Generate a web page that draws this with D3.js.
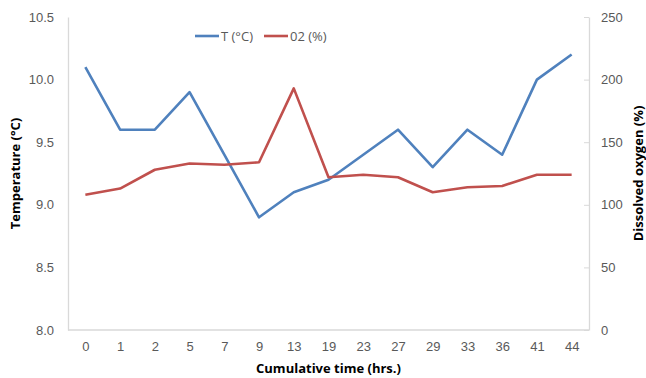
<!DOCTYPE html>
<html>
<head>
<meta charset="utf-8">
<script src="https://cdn.jsdelivr.net/npm/d3@7"></script>
<style>
  html, body { margin: 0; padding: 0; background: #fff; }
  svg { display: block; font-family: "Open Sans", "Liberation Sans", sans-serif; }
</style>
</head>
<body>
<svg id="chart" width="646" height="378"></svg>
<script>
// Sampling times (hours, cumulative) used as categories
const times = ["0", "1", "2", "5", "7", "9", "13", "19", "23", "27", "29", "33", "36", "41", "44"];
// Water temperature (°C)
const temperature = [10.1, 9.6, 9.6, 9.9, 9.4, 8.9, 9.1, 9.2, 9.4, 9.6, 9.3, 9.6, 9.4, 10.0, 10.2];
// Dissolved oxygen saturation (%)
const oxygen = [108, 113, 128, 133, 132, 134, 193, 122, 124, 122, 110, 114, 115, 124, 124];
// Axis ticks
const tempTicks = [8.0, 8.5, 9.0, 9.5, 10.0, 10.5];
const oxyTicks = [0, 50, 100, 150, 200, 250];

const W = 646, H = 378;
const margin = { left: 68, right: 57, top: 17, bottom: 48 };
const x0 = margin.left, x1 = W - margin.right, y0 = H - margin.bottom, y1 = margin.top;

const svg = d3.select("#chart");
const blue = "#4F81BD", red = "#C0504D", axisGray = "#D9D9D9", textGray = "#595959";

const x = d3.scalePoint().domain(times).range([x0, x1]).padding(0.5);
const yT = d3.scaleLinear().domain([8, 10.5]).range([y0, y1]);
const yO = d3.scaleLinear().domain([0, 250]).range([y0, y1]);

// Left axis (temperature)
const leftAxis = svg.append("g").attr("transform", `translate(${x0},0)`)
  .call(d3.axisLeft(yT).tickValues(tempTicks).tickFormat(d3.format(".1f")).tickSize(0).tickPadding(14));
// Right axis (dissolved oxygen), short ticks pointing into the plot
const rightAxis = svg.append("g").attr("transform", `translate(${x1},0)`)
  .call(d3.axisRight(yO).tickValues(oxyTicks).tickSize(0).tickPadding(12));
rightAxis.selectAll(".tick").append("line").attr("x1", -5).attr("x2", 0).attr("stroke", axisGray);
// Bottom axis (categories)
const bottomAxis = svg.append("g").attr("transform", `translate(0,${y0})`)
  .call(d3.axisBottom(x).tickSize(0).tickPadding(12));
bottomAxis.select(".domain").attr("d", `M${x0},0H${x1}`);

[leftAxis, rightAxis, bottomAxis].forEach(g => {
  g.select(".domain").attr("stroke", axisGray).attr("stroke-width", 1.3);
  g.selectAll("text").attr("fill", textGray).style("font-size", "13px");
});

// Series lines
const lineT = d3.line().x((d, i) => x(times[i])).y(d => yT(d));
const lineO = d3.line().x((d, i) => x(times[i])).y(d => yO(d));
svg.append("path").datum(temperature).attr("d", lineT)
  .attr("fill", "none").attr("stroke", blue).attr("stroke-width", 2.6).attr("stroke-linejoin", "round");
svg.append("path").datum(oxygen).attr("d", lineO)
  .attr("fill", "none").attr("stroke", red).attr("stroke-width", 2.6).attr("stroke-linejoin", "round");

// Axis titles
svg.append("text").attr("transform", `translate(20,${(y0 + y1) / 2}) rotate(-90)`)
  .attr("text-anchor", "middle").style("font-size", "13px").style("font-weight", "bold").attr("fill", "#000")
  .text("Temperature (°C)");
svg.append("text").attr("transform", `translate(643,${(y0 + y1) / 2}) rotate(-90)`)
  .attr("text-anchor", "middle").style("font-size", "13px").style("font-weight", "bold").attr("fill", "#000")
  .text("Dissolved oxygen (%)");
svg.append("text").attr("x", (x0 + x1) / 2).attr("y", 373)
  .attr("text-anchor", "middle").style("font-size", "13px").style("font-weight", "bold").attr("fill", "#000")
  .text("Cumulative time (hrs.)");

// Legend
const legend = [{ label: "T (°C)", color: blue, x: 195 }, { label: "02 (%)", color: red, x: 264 }];
const lg = svg.append("g").selectAll("g").data(legend).join("g")
  .attr("transform", d => `translate(${d.x},36)`);
lg.append("line").attr("x1", 0).attr("x2", 24).attr("stroke", d => d.color).attr("stroke-width", 2.6);
lg.append("text").attr("x", 26).attr("dy", "0.35em").style("font-size", "13px").attr("fill", textGray)
  .text(d => d.label);
</script>
</body>
</html>
